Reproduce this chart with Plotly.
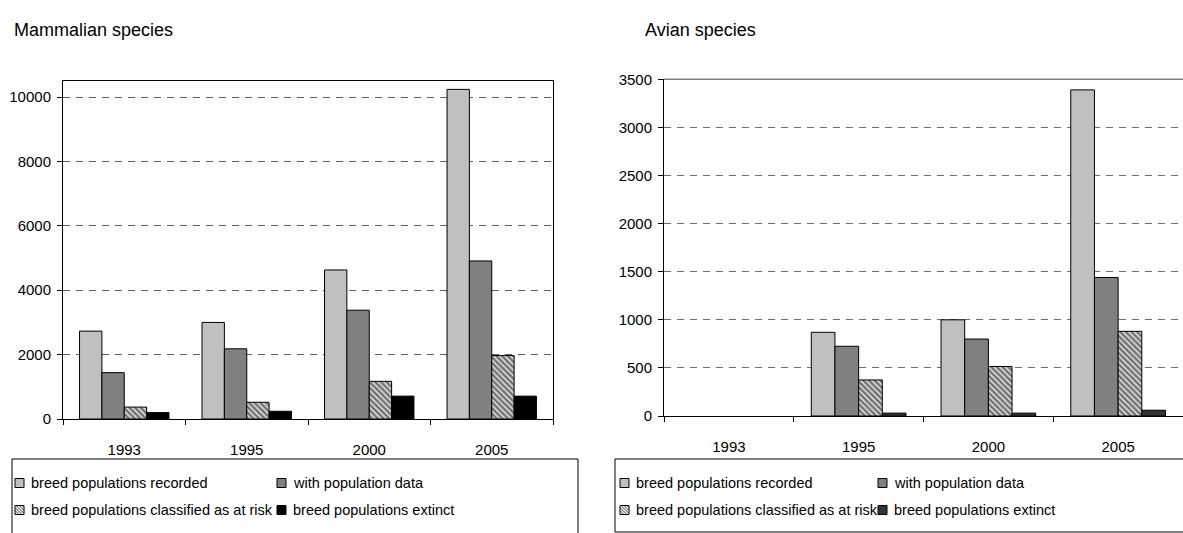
import plotly.graph_objects as go

W, H = 1183, 533

# ---- data -------------------------------------------------------------
years = ["1993", "1995", "2000", "2005"]
series_names = [
    "breed populations recorded",
    "with population data",
    "breed populations classified as at risk",
    "breed populations extinct",
]

mammal_recorded = [2730, 3000, 4630, 10240]
mammal_with_data = [1440, 2180, 3380, 4910]
mammal_at_risk = [370, 520, 1170, 1970]
mammal_extinct = [200, 240, 710, 710]

avian_recorded = [None, 870, 1000, 3390]
avian_with_data = [None, 725, 800, 1440]
avian_at_risk = [None, 375, 515, 880]
avian_extinct = [None, 30, 30, 60]

mammal_ticks = [0, 2000, 4000, 6000, 8000, 10000]
avian_ticks = [0, 500, 1000, 1500, 2000, 2500, 3000, 3500]

FONT = "Liberation Sans, Arial, sans-serif"
FILL = ["#C0C0C0", "#808080", "#FFFFFF", None]


def px_x(p):
    return p / W


def px_y(p):
    return 1 - p / H


def bar_marker(kind, extinct_color):
    line = dict(color="#000000", width=1)
    if kind == 2:
        return dict(color="#E0E0E0", line=line,
                    pattern=dict(shape="\\", fgcolor="#000000", bgcolor="#E0E0E0",
                                 size=4, solidity=0.6, fillmode="overlay"))
    if kind == 3:
        return dict(color=extinct_color, line=line)
    return dict(color=FILL[kind], line=line)


fig = go.Figure()

panels = [
    ("x", "y", [mammal_recorded, mammal_with_data, mammal_at_risk, mammal_extinct], "#000000"),
    ("x2", "y2", [avian_recorded, avian_with_data, avian_at_risk, avian_extinct], "#333333"),
]

for xa, ya, values, ext_color in panels:
    for k, (name, vals) in enumerate(zip(series_names, values)):
        fig.add_trace(go.Bar(
            x=years, y=vals, name=name, xaxis=xa, yaxis=ya,
            marker=bar_marker(k, ext_color), showlegend=False,
            hoverinfo="x+y+name",
        ))

axis_common = dict(
    showline=True, linecolor="#000000", linewidth=1, automargin=False,
    tickfont=dict(family=FONT, size=15, color="#000000"),
    ticks="outside", tickcolor="#000000", ticklen=5, tickwidth=1,
    fixedrange=True,
)

fig.update_layout(
    width=W, height=H,
    margin=dict(l=0, r=0, t=0, b=0, pad=0),
    paper_bgcolor="#FFFFFF", plot_bgcolor="#FFFFFF",
    barmode="group", bargap=0.27, bargroupgap=0,
    font=dict(family=FONT, size=14, color="#000000"),
    xaxis=dict(domain=[px_x(63), px_x(553)], anchor="y", type="category",
               tickson="boundaries", showgrid=False, mirror=True,
               ticklabelstandoff=17, **axis_common),
    yaxis=dict(domain=[px_y(419), px_y(81)], anchor="x", range=[0, 10500],
               tickvals=mammal_ticks, tickformat="d", showgrid=True,
               gridcolor="#606060", griddash="7px,6px", gridwidth=1,
               mirror=True, zeroline=False, ticklabelstandoff=3, **axis_common),
    xaxis2=dict(domain=[px_x(664), 1.0], anchor="y2", type="category",
                tickson="boundaries", showgrid=False,
                ticklabelstandoff=17, **axis_common),
    yaxis2=dict(domain=[px_y(416), px_y(79.3)], anchor="x2", range=[0, 3500],
                tickvals=avian_ticks, tickformat="d", showgrid=True,
                gridcolor="#707070", griddash="7px,6px", gridwidth=1,
                zeroline=False, ticklabelstandoff=3, **axis_common),
)

# panel titles
for text, xpx in [("Mammalian species", 12), ("Avian species", 643)]:
    fig.add_annotation(text=text, x=px_x(xpx), y=px_y(30), xref="paper", yref="paper",
                       xanchor="left", yanchor="middle", showarrow=False,
                       font=dict(family=FONT, size=18, color="#000000"))

# top border of the avian plot area
fig.add_shape(type="line", xref="paper", yref="paper",
              x0=px_x(664), x1=1.0, y0=px_y(79.3), y1=px_y(79.3),
              line=dict(color="#808080", width=1.5), layer="above")

# ---- legends: framed 2x2 key under each panel -------------------------
SW = 9  # swatch size in px
legend_rows = [483, 510]
legend_specs = [
    # (frame left, right, bottom, swatch column x positions, extinct colour)
    (12, 578, 545, [15, 277], "#000000"),
    (615, 1195, 532, [620, 878], "#333333"),
]


def hatch_path(x0, y0, s, step=3):
    segs = []
    for d in range(-s + 1, s, step):
        xa, ya = x0 + max(0, d), y0 + max(0, -d)
        xb, yb = x0 + min(s, s + d), y0 + min(s, s - d)
        segs.append(f"M{px_x(xa)},{px_y(ya)}L{px_x(xb)},{px_y(yb)}")
    return "".join(segs)


for left, right, bottom, cols, ext_color in legend_specs:
    fig.add_shape(type="rect", xref="paper", yref="paper",
                  x0=px_x(left), x1=px_x(right), y0=px_y(bottom), y1=px_y(459),
                  line=dict(color="#000000", width=1), fillcolor="rgba(0,0,0,0)")
    for k, name in enumerate(series_names):
        row, col = divmod(k, 2)
        sx, cy = cols[col], legend_rows[row]
        sy = cy - SW / 2
        fill = ext_color if k == 3 else FILL[k]
        fig.add_shape(type="rect", xref="paper", yref="paper",
                      x0=px_x(sx), x1=px_x(sx + SW), y0=px_y(sy + SW), y1=px_y(sy),
                      line=dict(color="#000000", width=1), fillcolor=fill)
        if k == 2:
            fig.add_shape(type="path", xref="paper", yref="paper",
                          path=hatch_path(sx, sy, SW),
                          line=dict(color="#000000", width=0.8))
        fig.add_annotation(text=name, x=px_x(sx + 14), y=px_y(cy),
                           xref="paper", yref="paper", xanchor="left",
                           yanchor="middle", showarrow=False,
                           font=dict(family=FONT, size=14.5, color="#000000"))

fig.write_html("out.html")
